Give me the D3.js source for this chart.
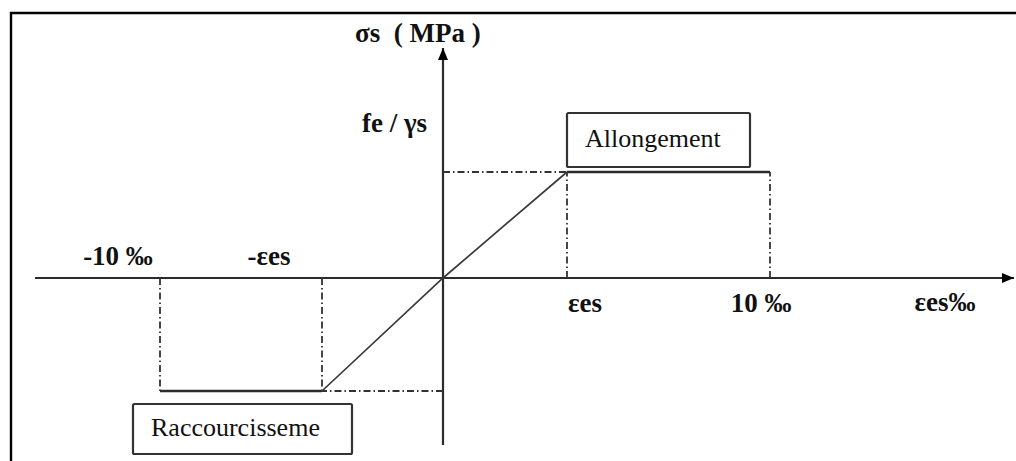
<!DOCTYPE html>
<html>
<head>
<meta charset="utf-8">
<script src="https://cdn.jsdelivr.net/npm/d3@7"></script>
<style>
  html, body { margin: 0; padding: 0; background: #fff; }
  svg { display: block; }
  text { font-family: "Liberation Serif", "Times New Roman", serif; fill: #111; }
</style>
</head>
<body>
<svg id="chart" width="1016" height="461"></svg>
<script>
// DATA (schematic steel stress-strain diagram, strain in per mille, stress in MPa)
const epsES = 2.17; // fe / (gs * Es)
const fsu = 435; // fe / gs
const strainTicks = [-10, -epsES, epsES, 10];
const strainTickLabels = ["-10 ‰", "-εes", "εes", "10 ‰"];
const curveStrain = [-10, -epsES, 0, epsES, 10];
const curveStress = [-fsu, -fsu, 0, fsu, fsu];
const boxLabels = ["Allongement", "Raccourcisseme"];
const axisTitles = ["σs  ( MPa )", "εes‰", "fe / γs"];

// CANVAS SETUP
const svg = d3.select("#chart");
const width = +svg.attr("width"),
  height = +svg.attr("height");

// schematic (not to scale) -> piecewise scales
const x = d3
  .scaleLinear()
  .domain([-10, -epsES, 0, epsES, 10])
  .range([160, 322, 443, 567, 770]);
const y = d3
  .scaleLinear()
  .domain([-fsu, 0, fsu])
  .range([391, 278, 172]);

const axisColor = "#2b2b2b";
const labelSize = 27;

// frame (top + left only, rest is cut off)
svg
  .append("path")
  .attr("d", `M11,${height} L11,13 L${width},13`)
  .attr("fill", "none")
  .attr("stroke", "#000")
  .attr("stroke-width", 2.4);

// arrow marker
svg
  .append("defs")
  .append("marker")
  .attr("id", "arrow")
  .attr("viewBox", "0 0 12 10")
  .attr("refX", 12)
  .attr("refY", 5)
  .attr("markerWidth", 12)
  .attr("markerHeight", 10)
  .attr("markerUnits", "userSpaceOnUse")
  .attr("orient", "auto")
  .append("path")
  .attr("d", "M0,0 L12,5 L0,10 Z")
  .attr("fill", "#000");

// AXES
svg
  .append("line")
  .attr("x1", 35)
  .attr("x2", 1014)
  .attr("y1", y(0))
  .attr("y2", y(0))
  .attr("stroke", axisColor)
  .attr("stroke-width", 2.2)
  .attr("marker-end", "url(#arrow)");

svg
  .append("line")
  .attr("x1", x(0))
  .attr("x2", x(0))
  .attr("y1", 445)
  .attr("y2", 48)
  .attr("stroke", axisColor)
  .attr("stroke-width", 2.2)
  .attr("marker-end", "url(#arrow)");

// DASH-DOT GUIDES
const guides = svg.append("g").attr("class", "guides");
const dash = "7,3,1.5,3";

// verticals at each strain tick, from axis to plateau
guides
  .selectAll("line.v")
  .data(strainTicks)
  .join("line")
  .attr("class", "v")
  .attr("x1", (d) => x(d))
  .attr("x2", (d) => x(d))
  .attr("y1", y(0))
  .attr("y2", (d) => (d < 0 ? y(-fsu) : y(fsu)))
  .attr("stroke", "#333")
  .attr("stroke-width", 1.8)
  .attr("stroke-dasharray", dash);

// horizontals from yield points to the stress axis
guides
  .selectAll("line.h")
  .data([-epsES, epsES])
  .join("line")
  .attr("class", "h")
  .attr("x1", x(0))
  .attr("x2", (d) => x(d))
  .attr("y1", (d) => (d < 0 ? y(-fsu) : y(fsu)))
  .attr("y2", (d) => (d < 0 ? y(-fsu) : y(fsu)))
  .attr("stroke", "#333")
  .attr("stroke-width", 1.8)
  .attr("stroke-dasharray", dash);

// CURVE
const pts = curveStrain.map((s, i) => [s, curveStress[i]]);
const line = d3
  .line()
  .x((d) => x(d[0]))
  .y((d) => y(d[1]));

// plateaus (thicker) and elastic branch (thinner)
svg
  .append("path")
  .datum(pts.slice(0, 2))
  .attr("d", line)
  .attr("fill", "none")
  .attr("stroke", axisColor)
  .attr("stroke-width", 2.4);
svg
  .append("path")
  .datum(pts.slice(3, 5))
  .attr("d", line)
  .attr("fill", "none")
  .attr("stroke", axisColor)
  .attr("stroke-width", 2.4);
svg
  .append("path")
  .datum(pts.slice(1, 4))
  .attr("d", line)
  .attr("fill", "none")
  .attr("stroke", "#3a3a3a")
  .attr("stroke-width", 1.7);

// TICK LABELS
const tickDx = [-42, -53, 18, -9];
const tickDy = [-13, -13, 34, 34];
svg
  .append("g")
  .selectAll("text")
  .data(strainTicks)
  .join("text")
  .attr("x", (d, i) => x(d) + tickDx[i])
  .attr("y", (d, i) => y(0) + tickDy[i])
  .attr("text-anchor", "middle")
  .attr("font-weight", "bold")
  .attr("font-size", labelSize)
  .text((d, i) => strainTickLabels[i]);

// AXIS TITLES
svg
  .append("text")
  .attr("x", 355)
  .attr("y", 42)
  .attr("font-weight", "bold")
  .attr("font-size", labelSize)
  .attr("xml:space", "preserve")
  .style("white-space", "pre")
  .text(axisTitles[0]);
svg
  .append("text")
  .attr("x", 945)
  .attr("y", y(0) + 33)
  .attr("text-anchor", "middle")
  .attr("font-weight", "bold")
  .attr("font-size", labelSize)
  .text(axisTitles[1]);
svg
  .append("text")
  .attr("x", 362)
  .attr("y", y(fsu) - 40)
  .attr("font-weight", "bold")
  .attr("font-size", labelSize)
  .text(axisTitles[2]);

// BOXES
const boxes = [
  { label: boxLabels[0], x0: x(epsES), y0: 113, w: 183, h: 54 },
  { label: boxLabels[1], x0: 133, y0: 404, w: 219, h: 50 },
];
const bg = svg
  .append("g")
  .selectAll("g")
  .data(boxes)
  .join("g")
  .attr("transform", (d) => `translate(${d.x0},${d.y0})`);
bg.append("rect")
  .attr("width", (d) => d.w)
  .attr("height", (d) => d.h)
  .attr("rx", 1.5)
  .attr("fill", "#fff")
  .attr("stroke", "#333")
  .attr("stroke-width", 2.2);
bg.append("text")
  .attr("x", 18)
  .attr("y", (d) => d.h / 2 + 7)
  .attr("font-size", 26)
  .text((d) => d.label);
</script>
</body>
</html>
